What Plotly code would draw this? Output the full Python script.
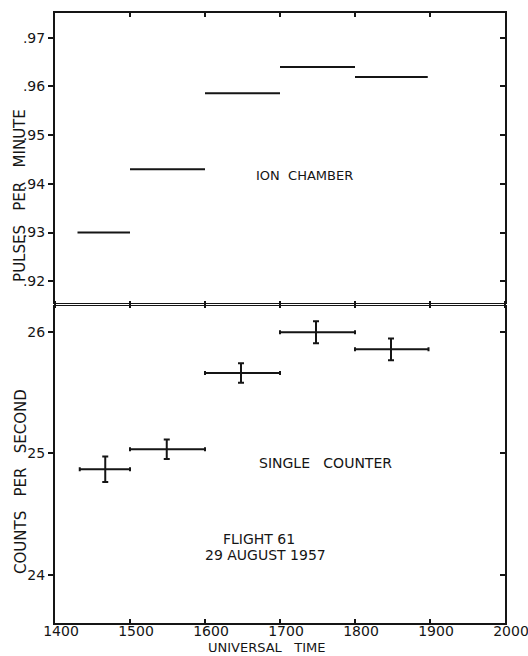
import plotly.graph_objects as go

# Ion chamber: pulse rate averaged over each time interval (UT)
ion_start = [1430, 1500, 1600, 1700, 1800]
ion_end = [1500, 1600, 1700, 1800, 1897]
ion_rate = [0.930, 0.943, 0.9586, 0.964, 0.9619]

# Single counter: counting rate with statistical errors
cnt_start = [1433, 1500, 1600, 1700, 1800]
cnt_end = [1500, 1600, 1700, 1800, 1898]
cnt_mid = [1467, 1549, 1648, 1748, 1848]
cnt_rate = [24.87, 25.035, 25.66, 25.995, 25.855]
cnt_err = [0.105, 0.08, 0.08, 0.09, 0.09]

x_ticks = [1400, 1500, 1600, 1700, 1800, 1900, 2000]
x_labels = ["1400", "1500", "1600", "1700", "1800", "1900", "2000"]
ion_ticks = [0.92, 0.93, 0.94, 0.95, 0.96, 0.97]
ion_labels = [".92", ".93", ".94", ".95", ".96", ".97"]
cnt_ticks = [24, 25, 26]
cnt_labels = ["24", "25", "26"]

INK = "#151515"
FONT = "DejaVu Sans"
NB = "\u00a0"

fig = go.Figure()

# horizontal interval segments for the ion chamber
seg_x, seg_y = [], []
for s, e, r in zip(ion_start, ion_end, ion_rate):
    seg_x += [s, e, None]
    seg_y += [r, r, None]
fig.add_trace(go.Scatter(
    x=seg_x, y=seg_y, mode="lines", xaxis="x2", yaxis="y",
    line=dict(color=INK, width=2), showlegend=False, hoverinfo="skip"))

# counter rates: time span as horizontal bar, statistical error as vertical bar
fig.add_trace(go.Scatter(
    x=cnt_mid, y=cnt_rate, mode="markers", xaxis="x", yaxis="y2",
    marker=dict(size=1, color=INK),
    error_x=dict(type="data", symmetric=False,
                 array=[e - m for e, m in zip(cnt_end, cnt_mid)],
                 arrayminus=[m - s for m, s in zip(cnt_mid, cnt_start)],
                 color=INK, thickness=2, width=2),
    error_y=dict(type="data", array=cnt_err, color=INK, thickness=2, width=3),
    showlegend=False, hoverinfo="skip"))

# empty traces so the overlay axes (frame edges with their own ticks) are drawn
for xa, ya in [("x2", "y3"), ("x", "y4"), ("x3", "y"), ("x4", "y2")]:
    fig.add_trace(go.Scatter(x=[None], y=[None], xaxis=xa, yaxis=ya,
                             showlegend=False, hoverinfo="skip"))

axis_common = dict(showgrid=False, zeroline=False, showline=True,
                   linecolor=INK, tickcolor=INK, fixedrange=True,
                   automargin=False)

top_dom = [0.5238, 1.0]
bot_dom = [0.0, 0.5189]
x_range = [1400, 2000]
ion_range = [0.91543, 0.97506]
cnt_range = [23.608, 26.207]

fig.update_layout(
    width=528, height=656,
    margin=dict(l=55, r=23, t=13, b=33, autoexpand=False),
    paper_bgcolor="white", plot_bgcolor="white",
    font=dict(family=FONT, color=INK),
    # bottom edge with labels
    xaxis=dict(**axis_common, anchor="y2", domain=[0, 1], range=x_range,
               tickmode="array", tickvals=x_ticks, ticktext=x_labels,
               ticks="inside", ticklen=4, tickwidth=2, linewidth=2,
               tickfont=dict(size=14, family=FONT, color=INK),
               ticklabelshift=6, ticklabelstandoff=-6,
               ticklabeloverflow="allow"),
    # divider, lower panel side
    xaxis4=dict(**axis_common, overlaying="x", anchor="y2", side="top",
                range=x_range, tickmode="array", tickvals=x_ticks,
                showticklabels=False, ticks="outside", ticklen=4,
                tickwidth=2, linewidth=1),
    # divider, upper panel side
    xaxis2=dict(**axis_common, anchor="y", domain=[0, 1], range=x_range,
                tickmode="array", tickvals=x_ticks, showticklabels=False,
                ticks="outside", ticklen=4, tickwidth=2, linewidth=1),
    # top edge
    xaxis3=dict(**axis_common, overlaying="x2", anchor="y", side="top",
                range=x_range, tickmode="array", tickvals=x_ticks,
                showticklabels=False, ticks="inside", ticklen=4,
                tickwidth=2, linewidth=2),
    yaxis=dict(**axis_common, anchor="x2", domain=top_dom, range=ion_range,
               tickmode="array", tickvals=ion_ticks, ticktext=ion_labels,
               ticks="outside", ticklen=5, tickwidth=2, linewidth=2,
               tickfont=dict(size=14, family=FONT, color=INK)),
    yaxis3=dict(**axis_common, overlaying="y", anchor="x2", side="right",
                range=ion_range, tickmode="array", tickvals=ion_ticks,
                showticklabels=False, ticks="inside", ticklen=5, tickwidth=2,
                linewidth=2),
    yaxis2=dict(**axis_common, anchor="x", domain=bot_dom, range=cnt_range,
                tickmode="array", tickvals=cnt_ticks, ticktext=cnt_labels,
                ticks="outside", ticklen=5, tickwidth=2, linewidth=2,
                tickfont=dict(size=14, family=FONT, color=INK)),
    yaxis4=dict(**axis_common, overlaying="y2", anchor="x", side="right",
                range=cnt_range, tickmode="array", tickvals=cnt_ticks,
                showticklabels=False, ticks="inside", ticklen=5, tickwidth=2,
                linewidth=2),
)

fig.add_annotation(x=1733, y=0.9418, xref="x2", yref="y",
                   text=f"ION{NB}{NB}CHAMBER", showarrow=False,
                   font=dict(family=FONT, size=13, color=INK))
fig.add_annotation(x=1760, y=24.92, xref="x", yref="y2",
                   text=f"SINGLE{NB}{NB}{NB}COUNTER", showarrow=False,
                   font=dict(family=FONT, size=14, color=INK))
fig.add_annotation(x=1672, y=24.30, xref="x", yref="y2",
                   text="FLIGHT 61", showarrow=False,
                   font=dict(family=FONT, size=14, color=INK))
fig.add_annotation(x=1680, y=24.166, xref="x", yref="y2",
                   text="29 AUGUST 1957", showarrow=False,
                   font=dict(family=FONT, size=14, color=INK))

# axis titles
title_font = dict(family=FONT, size=15, color=INK)
fig.add_annotation(x=-0.078, y=0.9377, xref="paper", yref="y",
                   xanchor="center", yanchor="middle",
                   text=f"PULSES{NB}{NB}{NB}PER{NB}{NB}{NB}MINUTE",
                   textangle=-90, showarrow=False, font=title_font)
fig.add_annotation(x=-0.076, y=24.773, xref="paper", yref="y2",
                   xanchor="center", yanchor="middle",
                   text=f"COUNTS{NB}{NB}{NB}PER{NB}{NB}{NB}SECOND",
                   textangle=-90, showarrow=False, font=title_font)
fig.add_annotation(x=1682, y=-0.0402, xref="x", yref="paper",
                   xanchor="center", yanchor="middle",
                   text=f"UNIVERSAL{NB}{NB}{NB}TIME", showarrow=False,
                   font=dict(family=FONT, size=13, color=INK))

fig.write_html("out.html")
